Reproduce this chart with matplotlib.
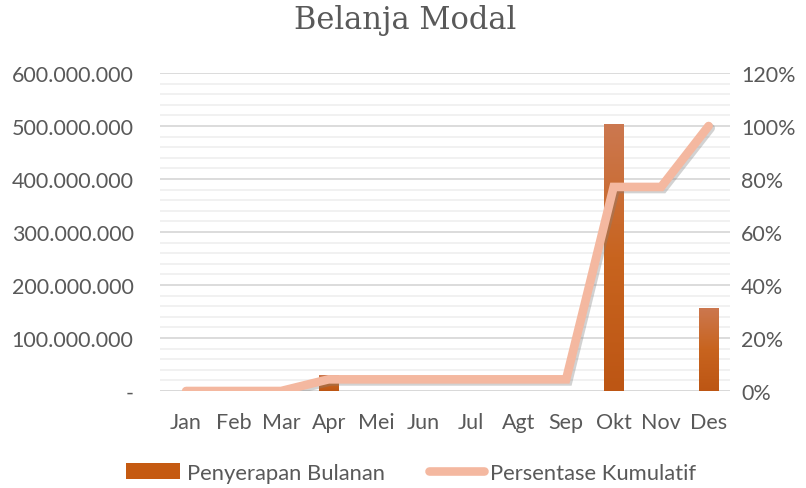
import numpy as np
import matplotlib.pyplot as plt
import matplotlib.patheffects as pe
from matplotlib.colors import LinearSegmentedColormap
from matplotlib.ticker import FuncFormatter, MultipleLocator
from matplotlib.patches import Patch
from matplotlib.lines import Line2D

# data
bulan = ['Jan', 'Feb', 'Mar', 'Apr', 'Mei', 'Jun', 'Jul', 'Agt', 'Sep', 'Okt', 'Nov', 'Des']
penyerapan = [0, 0, 0, 30e6, 0, 0, 0, 0, 0, 504e6, 0, 157e6]
kumulatif = [0, 0, 0, 4.4, 4.4, 4.4, 4.4, 4.4, 4.4, 77.0, 77.0, 100.0]

txt_col = '#595959'
bar_col = '#c55a11'
line_col = '#f4b8a0'
fs = 15.5
plt.rcParams['font.family'] = ['Lato', 'DejaVu Sans']

fig = plt.figure(figsize=(8.06, 4.89), dpi=100)
ax = fig.add_axes([160/806, 1-392/489, 570/806, 318/489])
ax2 = ax.twinx()

x = np.arange(len(bulan))
bars = ax.bar(x, penyerapan, width=0.42, color=bar_col, zorder=3)

# gradient fill on bars (lighter at top)
cmap = LinearSegmentedColormap.from_list('g', ['#bd5614', '#c8641f', '#cc7850'])
grad = np.linspace(0, 1, 256).reshape(-1, 1)
for b in bars:
    h = b.get_height()
    if h <= 0:
        continue
    x0 = b.get_x()
    im = ax.imshow(grad, cmap=cmap, origin='lower', aspect='auto',
                   extent=[x0, x0 + b.get_width(), 0, h], zorder=4)
    im.set_clip_path(b)

ax.set_xlim(-0.55, 11.45)
ax.set_ylim(0, 600e6)
ax.yaxis.set_major_locator(MultipleLocator(100e6))
ax.yaxis.set_minor_locator(MultipleLocator(20e6))
ax.grid(True, which='major', axis='y', color='#d9d9d9', lw=1.3, zorder=0)
ax.grid(True, which='minor', axis='y', color='#f0f0f0', lw=1.3, zorder=0)
ax.set_axisbelow(True)

def fmt_rp(v, pos):
    if v == 0:
        return '-'
    return f'{int(v):,}'.replace(',', '.')

ax.yaxis.set_major_formatter(FuncFormatter(fmt_rp))
ax.set_xticks(x)
ax.set_xticklabels(bulan)
ax.tick_params(axis='both', which='both', length=0, colors=txt_col, labelsize=fs)
ax.tick_params(axis='x', pad=15)
ax.tick_params(axis='y', pad=19)

ax2.plot(x, kumulatif, color=line_col, lw=6.2, solid_capstyle='round', solid_joinstyle='miter',
         zorder=5, path_effects=[pe.SimpleLineShadow(offset=(1.5, -1.5), shadow_color='#808080', alpha=0.35),
                                 pe.Normal()])
ax2.set_ylim(0, 120)
ax2.yaxis.set_major_locator(MultipleLocator(20))
ax2.yaxis.set_major_formatter(FuncFormatter(lambda v, p: f'{int(v)}%'))
ax2.tick_params(axis='y', length=0, colors=txt_col, labelsize=fs, pad=8)

for a in (ax, ax2):
    for s in a.spines.values():
        s.set_visible(False)
ax.axhline(0, color='#d9d9d9', lw=1.3, zorder=1)

fig.text(405/806, 1-21/489, 'Belanja Modal', ha='center', va='center',
         family='DejaVu Serif', fontsize=22, color=txt_col)

handles = [Patch(facecolor=bar_col, edgecolor='none'),
           Line2D([0], [0], color=line_col, lw=6.2, solid_capstyle='round')]
fig.legend(handles, ['Penyerapan Bulanan', 'Persentase Kumulatif'], loc='center',
           bbox_to_anchor=(411/806, 1-474/489), ncol=2, frameon=False, fontsize=15.8,
           labelcolor=txt_col, handlelength=2.5, handleheight=0.75, handletextpad=0.3,
           columnspacing=2.0)

fig.savefig('out.png', dpi=100)
